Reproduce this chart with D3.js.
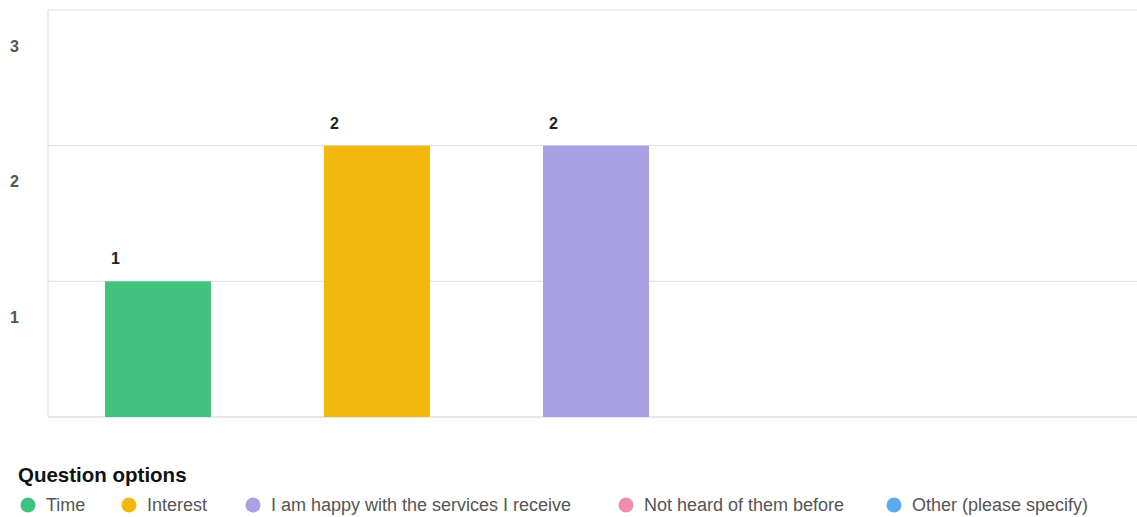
<!DOCTYPE html>
<html>
<head>
<meta charset="utf-8">
<script src="https://cdn.jsdelivr.net/npm/d3@7"></script>
<style>
    body { margin: 0; background: #fff; font-family: "Liberation Sans", Arial, sans-serif; }
</style>
</head>
<body>
<div id="chart"></div>
<script>
// chart data
const categories = ['Time', 'Interest', 'I am happy with the services I receive', 'Not heard of them before', 'Other (please specify)'];
const values = [1, 2, 2, 0, 0];
const colors = ['#40c27f', '#f2b80e', '#a9a1e3', '#f08daf', '#5aacef'];
const yTicks = [1, 2, 3];
const legendTitle = 'Question options';

const width = 1137, height = 517;
const margin = {top: 10, right: 0, bottom: 100, left: 48};

const svg = d3.select('#chart').append('svg')
    .attr('width', width)
    .attr('height', height);

const plotH = height - margin.top - margin.bottom;

const x = d3.scaleBand()
    .domain(categories)
    .range([margin.left, 1144])
    .paddingInner(0.516)
    .paddingOuter(0.26);

const y = d3.scaleLinear()
    .domain([0, 3])
    .range([margin.top + plotH, margin.top]);

// gridlines
svg.append('g')
    .selectAll('line')
    .data(yTicks)
    .enter().append('line')
    .attr('x1', margin.left)
    .attr('x2', width)
    .attr('y1', d => y(d))
    .attr('y2', d => y(d))
    .attr('stroke', '#e4e4ea')
    .attr('stroke-width', 1.2);

// baseline + left border
svg.append('line')
    .attr('x1', margin.left).attr('x2', width)
    .attr('y1', y(0)).attr('y2', y(0))
    .attr('stroke', '#dcdce4').attr('stroke-width', 1.5);
svg.append('line')
    .attr('x1', margin.left).attr('x2', margin.left)
    .attr('y1', y(3)).attr('y2', y(0))
    .attr('stroke', '#e0e0e8').attr('stroke-width', 1.2);

// y axis labels (sit below their gridline)
const yAxis = svg.append('g')
    .attr('transform', 'translate(' + margin.left + ',0)')
    .call(d3.axisLeft(y).tickValues(yTicks).tickSize(0).tickPadding(29).tickFormat(d3.format('d')));
yAxis.select('.domain').remove();
yAxis.selectAll('text')
    .attr('dy', 41)
    .attr('fill', '#555')
    .attr('font-size', 16)
    .attr('font-weight', 'bold')
    .attr('font-family', '"Liberation Sans", Arial, sans-serif');

// bars
const bars = categories.map((c, i) => ({cat: c, value: values[i], color: colors[i]}));

svg.append('g')
    .selectAll('rect')
    .data(bars.filter(d => d.value > 0))
    .enter().append('rect')
    .attr('x', d => x(d.cat))
    .attr('y', d => y(d.value))
    .attr('width', x.bandwidth())
    .attr('height', d => y(0) - y(d.value))
    .attr('fill', d => d.color);

// value labels
svg.append('g')
    .selectAll('text')
    .data(bars.filter(d => d.value > 0))
    .enter().append('text')
    .attr('x', d => x(d.cat) + 6)
    .attr('y', d => y(d.value) - 17)
    .attr('font-size', 16)
    .attr('font-weight', 'bold')
    .attr('fill', '#222')
    .text(d => d.value);

// legend
const legend = svg.append('g');
legend.append('text')
    .attr('x', 18)
    .attr('y', 482)
    .attr('font-size', 20.5)
    .attr('font-weight', 'bold')
    .attr('fill', '#111')
    .text(legendTitle);

const legendX = [28, 129, 253, 626, 894];
const item = legend.selectAll('.item')
    .data(bars)
    .enter().append('g')
    .attr('class', 'item')
    .attr('transform', (d, i) => 'translate(' + legendX[i] + ',505)');

item.append('circle')
    .attr('r', 7.5)
    .attr('fill', d => d.color);

item.append('text')
    .attr('x', 18)
    .attr('dy', '0.35em')
    .attr('font-size', 18)
    .attr('fill', '#555')
    .text(d => d.cat);
</script>
</body>
</html>
